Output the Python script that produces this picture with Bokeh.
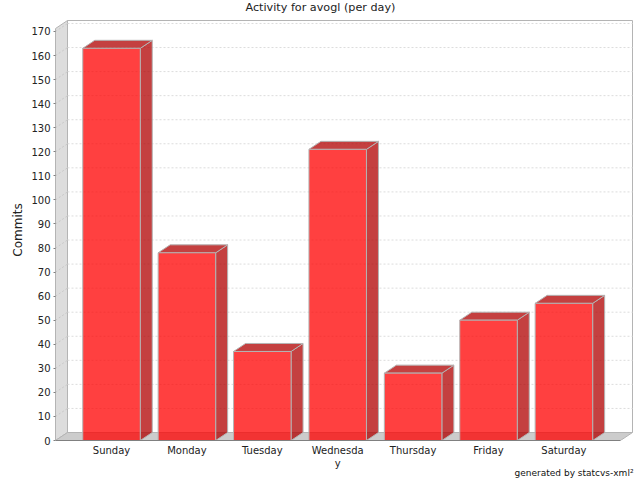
from bokeh.plotting import figure
from bokeh.models import Range1d, FixedTicker, Title
from bokeh.embed import file_html
from bokeh.resources import INLINE

days = ["Sunday", "Monday", "Tuesday", "Wednesday", "Thursday", "Friday", "Saturday"]
day_labels = ["Sunday", "Monday", "Tuesday", "Wednesda\ny", "Thursday", "Friday", "Saturday"]
commits = [163, 78, 37, 121, 28, 50, 57]
y_ticks = list(range(0, 180, 10))

PX_X = 75.4     # pixels per category
PX_Y = 2.406    # pixels per commit
DX = 12 / PX_X  # 3D depth, in data units
DY = 8 / PX_Y
HALF = 28.75 / PX_X

x0 = -(111 - 55) / PX_X
x1 = (633 - 111) / PX_X
x_front_end = (620 - 111) / PX_X
y_wall = (440 - 28) / PX_Y
y1 = 421 / PX_Y

p = figure(width=640, height=484, output_backend="svg", toolbar_location=None,
           x_range=Range1d(x0, x1), y_range=Range1d(0, y1),
           frame_width=578, frame_height=421,
           min_border_left=55, min_border_right=7, min_border_top=23, min_border_bottom=40,
           outline_line_color=None, background_fill_color="white", border_fill_color="white")
p.styles = {"position": "absolute", "left": "0px", "top": "-4px"}
p.grid.visible = False

WALL = "#b4b4b4"
# left wall, floor, back wall outline
p.patch([x0, x0 + DX, x0 + DX, x0], [0, DY, y_wall + DY, y_wall],
        fill_color="#dddddd", line_color=WALL, line_width=1)
p.patch([x0, x0 + DX, x1 - 1 / PX_X, x_front_end], [0, DY, DY, 0],
        fill_color="#cccccc", line_color=WALL, line_width=1)
p.line([x0 + DX, x0 + DX, x1 - 1 / PX_X, x1 - 1 / PX_X], [DY, y_wall + DY, y_wall + DY, DY],
       line_color=WALL, line_width=1)

# gridlines on back wall and on left wall
gt = y_ticks[1:]
p.segment([x0 + DX] * len(gt), [v + DY for v in gt], [x1 - 1 / PX_X] * len(gt), [v + DY for v in gt],
          line_color="#dcdcdc", line_width=1, line_dash="2 2")
p.segment([x0] * len(gt), gt, [x0 + DX] * len(gt), [v + DY for v in gt],
          line_color="#c8c8c8", line_width=1, line_dash="2 2")

RED = "#ff0000"
DARK = "#b00000"
ALPHA = 0.75
EDGE = "#b4b4b4"
for i, v in enumerate(commits):
    l, r = i - HALF, i + HALF
    # side
    p.patch([r, r + DX, r + DX, r], [0, DY, v + DY, v],
            fill_color=DARK, fill_alpha=ALPHA, line_color=EDGE, line_width=1)
    # top
    p.patch([l, l + DX, r + DX, r], [v, v + DY, v + DY, v],
            fill_color=DARK, fill_alpha=ALPHA, line_color=EDGE, line_width=1)
    # front
    p.quad(left=[l], right=[r], bottom=[0], top=[v],
           fill_color=RED, fill_alpha=ALPHA, line_color=EDGE, line_width=1)

# axes
xa = p.xaxis[0]
xa.ticker = FixedTicker(ticks=list(range(len(days))))
xa.major_label_overrides = {i: s for i, s in enumerate(day_labels)}
xa.bounds = (x0, x_front_end)
xa.axis_line_color = "#808080"
xa.major_tick_line_color = None
xa.minor_tick_line_color = None
xa.major_tick_in = 0
xa.major_tick_out = 0
xa.major_label_standoff = 4
xa.major_label_text_font = "DejaVu Sans"
xa.major_label_text_font_size = "10px"
xa.major_label_text_color = "#222222"

ya = p.yaxis[0]
ya.ticker = FixedTicker(ticks=y_ticks)
ya.bounds = (0, y_wall)
ya.axis_line_color = "#b4b4b4"
ya.major_tick_line_color = "#808080"
ya.major_tick_in = 0
ya.major_tick_out = 2
ya.minor_tick_line_color = None
ya.major_label_standoff = 3
ya.major_label_text_font = "DejaVu Sans"
ya.major_label_text_font_size = "10px"
ya.major_label_text_color = "#222222"
ya.axis_label = "Commits"
ya.axis_label_text_font = "DejaVu Sans"
ya.axis_label_text_font_size = "12px"
ya.axis_label_text_font_style = "normal"
ya.axis_label_text_color = "#222222"
ya.axis_label_standoff = 3

p.title = Title(text="Activity for avogl (per day)", align="left", offset=190,
                vertical_align="top", text_font="DejaVu Sans",
                text_font_size="11.2px", text_font_style="normal", text_color="#222222", standoff=7)
p.add_layout(Title(text="generated by statcvs-xml²", align="right", vertical_align="top",
                   text_font="DejaVu Sans", text_font_size="9px", text_font_style="normal",
                   text_color="#111111", standoff=-8), "below")

open("out.html", "w").write(file_html(p, INLINE))
